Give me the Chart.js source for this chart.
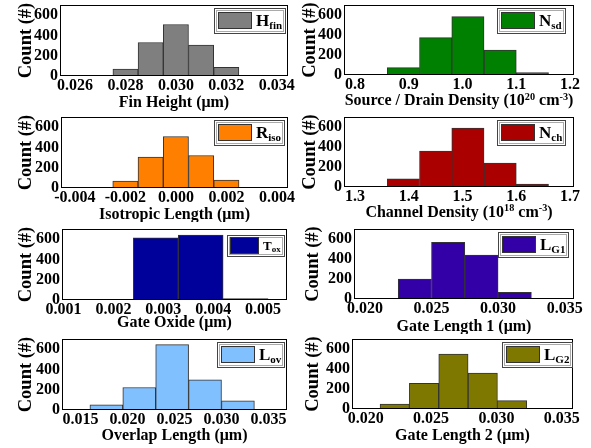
<!DOCTYPE html>
<html><head><meta charset="utf-8">
<script src="https://cdn.jsdelivr.net/npm/chart.js@4"></script>
<style>
html,body{margin:0;padding:0;background:#fff;}
#wrap{position:relative;width:591px;height:448px;overflow:hidden;background:#fff;}
#wrap canvas{position:absolute;}
</style></head><body><div id="wrap"></div>
<script>
// ---------------- data ----------------
const countTicks = [0, 200, 400, 600];
const countTickLabels = ['0', '200', '400', '600'];

const hfinBins = [0.027, 0.028, 0.029, 0.030, 0.031, 0.032, 0.033];
const hfinCounts = [4, 68, 330, 508, 305, 85, 3];
const hfinTicks = [0.026, 0.028, 0.030, 0.032, 0.034];
const hfinTickLabels = ['0.026', '0.028', '0.030', '0.032', '0.034'];

const nsdBins = [0.89, 0.95, 1.01, 1.07, 1.13];
const nsdCounts = [73, 373, 583, 250, 25];
const nsdTicks = [0.8, 0.9, 1.0, 1.1, 1.2];
const nsdTickLabels = ['0.8', '0.9', '1.0', '1.1', '1.2'];

const risoBins = [-0.003, -0.002, -0.001, 0.0, 0.001, 0.002, 0.003];
const risoCounts = [5, 68, 305, 508, 320, 78, 2];
const risoTicks = [-0.004, -0.002, 0.0, 0.002, 0.004];
const risoTickLabels = ['-0.004', '-0.002', '0.000', '0.002', '0.004'];

const nchBins = [1.39, 1.45, 1.51, 1.57, 1.63];
const nchCounts = [82, 360, 588, 240, 30];
const nchTicks = [1.3, 1.4, 1.5, 1.6, 1.7];
const nchTickLabels = ['1.3', '1.4', '1.5', '1.6', '1.7'];

const toxBins = [0.00195, 0.00285, 0.00375, 0.00465];
const toxCounts = [4, 612, 640, 15];
const toxTicks = [0.001, 0.002, 0.003, 0.004, 0.005];
const toxTickLabels = ['0.001', '0.002', '0.003', '0.004', '0.005'];

const lg1Bins = [0.02125, 0.02375, 0.02625, 0.02875, 0.03125];
const lg1Counts = [3, 200, 567, 440, 67];
const lg1Ticks = [0.020, 0.025, 0.030, 0.035];
const lg1TickLabels = ['0.020', '0.025', '0.030', '0.035'];

const lovBins = [0.01775, 0.02125, 0.02475, 0.02825, 0.03175];
const lovCounts = [50, 222, 644, 298, 90];
const lovTicks = [0.015, 0.020, 0.025, 0.030, 0.035];
const lovTickLabels = ['0.015', '0.020', '0.025', '0.030', '0.035'];

const lg2Bins = [0.02222, 0.024465, 0.02671, 0.028955, 0.0312, 0.033445];
const lg2Counts = [50, 257, 550, 360, 83, 3];
const lg2Ticks = [0.020, 0.025, 0.030, 0.035];
const lg2TickLabels = ['0.020', '0.025', '0.030', '0.035'];

const yTitle = 'Count (#)';

// ---------------- panels (layout & style) ----------------
const FONT = '"Liberation Serif", "Times New Roman", serif';
const panels = [
  {bins: hfinBins, counts: hfinCounts, ticks: hfinTicks, labels: hfinTickLabels, xr: [0.0254, 0.03445],
   color: '#7f7f7f', legend: ['H', 'fin'], title: [['Fin Height (\u03bcm)']],
   cell: [0, 0, 295, 112], frame: [60, 5, 288, 76], legX: 214, tOff: 26, yT: 26},
  {bins: nsdBins, counts: nsdCounts, ticks: nsdTicks, labels: nsdTickLabels, xr: [0.7795, 1.2074],
   color: '#008000', legend: ['N', 'sd'], title: [['Source / Drain Density (10'], ['20', 'sup'], [' cm'], ['-3', 'sup'], [')']],
   cell: [295, 0, 296, 112], frame: [344, 5, 574, 75], legX: 497, tOff: 25, yT: 15},
  {bins: risoBins, counts: risoCounts, ticks: risoTicks, labels: risoTickLabels, xr: [-0.00455, 0.00444],
   color: '#ff8000', legend: ['R', 'iso'], title: [['Isotropic Length (\u03bcm)']],
   cell: [0, 112, 295, 110], frame: [61, 117, 288, 188], legX: 214, tOff: 26, yT: 26},
  {bins: nchBins, counts: nchCounts, ticks: nchTicks, labels: nchTickLabels, xr: [1.2795, 1.7074],
   color: '#aa0000', legend: ['N', 'ch'], title: [['Channel Density (10'], ['18', 'sup'], [' cm'], ['-3', 'sup'], [')']],
   cell: [295, 112, 296, 110], frame: [344, 117, 574, 187], legX: 497, tOff: 24.5, yT: 15},
  {bins: toxBins, counts: toxCounts, ticks: toxTicks, labels: toxTickLabels, xr: [0.00097, 0.00548],
   color: '#00009a', legend: ['T', 'ox'], title: [['Gate Oxide (\u03bcm)']], small: true,
   cell: [0, 222, 295, 112], frame: [62, 229, 287, 300], legX: 227, tOff: 21.5, yT: 26},
  {bins: lg1Bins, counts: lg1Counts, ticks: lg1Ticks, labels: lg1TickLabels, xr: [0.01918, 0.0357],
   color: '#3300a8', legend: ['L', 'G1'], title: [['Gate Length 1 (\u03bcm)']],
   cell: [295, 222, 296, 112], frame: [354, 229, 574, 299], legX: 498, tOff: 27, yT: 18},
  {bins: lovBins, counts: lovCounts, ticks: lovTicks, labels: lovTickLabels, xr: [0.01303, 0.03697],
   color: '#80c0ff', legend: ['L', 'ov'], title: [['Overlap Length (\u03bcm)']],
   cell: [0, 334, 295, 114], frame: [62, 339, 287, 410], legX: 217, tOff: 24.5, yT: 26},
  {bins: lg2Bins, counts: lg2Counts, ticks: lg2Ticks, labels: lg2TickLabels, xr: [0.01895, 0.03586],
   color: '#7f7800', legend: ['L', 'G2'], title: [['Gate Length 2 (\u03bcm)']],
   cell: [295, 334, 296, 114], frame: [352, 339, 573, 409], legX: 502, tOff: 25.5, yT: 18}
];

function drawRich(ctx, segs, x, baseline, size, align) {
  const parts = segs.map(s => {
    const kind = s[1] || 'n';
    const fs = kind === 'n' ? size : size * 0.64;
    const dy = kind === 'sup' ? -size * 0.36 : (kind === 'sub' ? size * 0.22 : 0);
    ctx.font = 'bold ' + fs + 'px ' + FONT;
    return {t: s[0], fs, dy, w: ctx.measureText(s[0]).width};
  });
  const total = parts.reduce((a, p) => a + p.w, 0);
  let cx = align === 'left' ? x : x - total / 2;
  ctx.textAlign = 'left';
  ctx.textBaseline = 'alphabetic';
  parts.forEach(p => {
    ctx.font = 'bold ' + p.fs + 'px ' + FONT;
    ctx.fillText(p.t, cx, baseline + p.dy);
    cx += p.w;
  });
  return total;
}

const wrap = document.getElementById('wrap');
panels.forEach((p, idx) => {
  const [cx, cy, cw, ch] = p.cell;
  const [fl, ft, fr, fb] = p.frame;
  const cv = document.createElement('canvas');
  cv.width = cw; cv.height = ch;
  cv.style.left = cx + 'px'; cv.style.top = cy + 'px';
  cv.style.width = cw + 'px'; cv.style.height = ch + 'px';
  wrap.appendChild(cv);

  const deco = {
    id: 'deco' + idx,
    afterDraw(chart) {
      const ctx = chart.ctx;
      const a = chart.chartArea;
      ctx.save();
      // frame
      ctx.strokeStyle = '#000';
      ctx.lineWidth = 1;
      ctx.strokeRect(a.left + 0.5, a.top + 0.5, a.right - a.left - 1, a.bottom - a.top - 1);
      ctx.fillStyle = '#000';
      // x title
      drawRich(ctx, p.title, (a.left + a.right) / 2, a.bottom + p.tOff + 5.3, 16, 'center');
      // y title
      ctx.save();
      ctx.translate(p.yT, (a.top + a.bottom) / 2);
      ctx.rotate(-Math.PI / 2);
      ctx.font = 'bold 18.5px ' + FONT;
      ctx.textAlign = 'center';
      ctx.textBaseline = 'middle';
      ctx.fillText(yTitle, 0, 0);
      ctx.restore();
      // legend
      const sm = !!p.small;
      const mainFs = sm ? 13 : 17, subFs = sm ? 9 : 11;
      const bx = p.legX - cx;
      const by = a.top + (sm ? 6 : 3);
      const bh = sm ? 22 : 26;
      const sw = sm ? 29 : 34;
      const sx = bx + (sm ? 3 : 4), sy = by + (sm ? 2 : 4), sh = bh - (sm ? 5 : 9);
      ctx.font = 'bold ' + mainFs + 'px ' + FONT;
      const w1 = ctx.measureText(p.legend[0]).width;
      ctx.font = 'bold ' + subFs + 'px ' + FONT;
      const w2 = ctx.measureText(p.legend[1]).width;
      const tx = sx + sw + 4;
      const bw = tx + w1 + w2 + 4 - bx;
      ctx.fillStyle = '#fff';
      ctx.fillRect(bx, by, bw, bh);
      ctx.strokeStyle = '#444';
      ctx.strokeRect(Math.round(bx) + 0.5, by + 0.5, Math.round(bw) - 1, bh - 1);
      ctx.strokeStyle = '#aaa';
      ctx.strokeRect(Math.round(bx) + 2.5, by + 2.5, Math.round(bw) - 5, bh - 5);
      ctx.fillStyle = p.color;
      ctx.fillRect(sx, sy, sw, sh);
      ctx.strokeStyle = '#333';
      ctx.strokeRect(sx + 0.5, sy + 0.5, sw - 1, sh - 1);
      ctx.fillStyle = '#000';
      const base = sy + sh / 2 + mainFs * 0.33;
      ctx.textAlign = 'left';
      ctx.textBaseline = 'alphabetic';
      ctx.font = 'bold ' + mainFs + 'px ' + FONT;
      ctx.fillText(p.legend[0], tx, base);
      ctx.font = 'bold ' + subFs + 'px ' + FONT;
      ctx.fillText(p.legend[1], tx + w1, base + subFs * 0.3);
      ctx.restore();
    }
  };

  new Chart(cv, {
    type: 'bar',
    data: {
      datasets: [{
        data: p.bins.map((b, i) => ({x: b, y: p.counts[i]})),
        backgroundColor: p.color,
        borderColor: '#333',
        borderWidth: 1,
        barPercentage: 1,
        categoryPercentage: 1,
        grouped: false
      }]
    },
    options: {
      responsive: false,
      animation: false,
      devicePixelRatio: 1,
      layout: {padding: {left: 0, top: ft - cy, right: cx + cw - fr, bottom: 0}},
      plugins: {legend: {display: false}, tooltip: {enabled: false}, title: {display: false}},
      scales: {
        x: {
          type: 'linear', min: p.xr[0], max: p.xr[1], offset: false,
          grid: {display: false, drawTicks: false, offset: false},
          border: {display: false},
          afterBuildTicks: s => { s.ticks = p.ticks.map(v => ({value: v})); },
          afterFit: s => { s.height = cy + ch - fb; s.paddingLeft = 0; s.paddingRight = 0; },
          ticks: {autoSkip: false, maxRotation: 0, minRotation: 0, padding: 0, color: '#000',
                  font: {family: FONT, size: 16, weight: 'bold'},
                  callback: (v, i) => p.labels[i]}
        },
        y: {
          type: 'linear', min: 0, max: 700,
          grid: {display: false, drawTicks: false},
          border: {display: false},
          afterBuildTicks: s => { s.ticks = countTicks.map(v => ({value: v})); },
          afterFit: s => { s.width = fl - cx; s.paddingTop = 0; s.paddingBottom = 0; },
          ticks: {autoSkip: false, padding: 2, color: '#000',
                  font: {family: FONT, size: 16, weight: 'bold'},
                  callback: (v, i) => countTickLabels[i]}
        }
      }
    },
    plugins: [deco]
  });
});
</script></body></html>
